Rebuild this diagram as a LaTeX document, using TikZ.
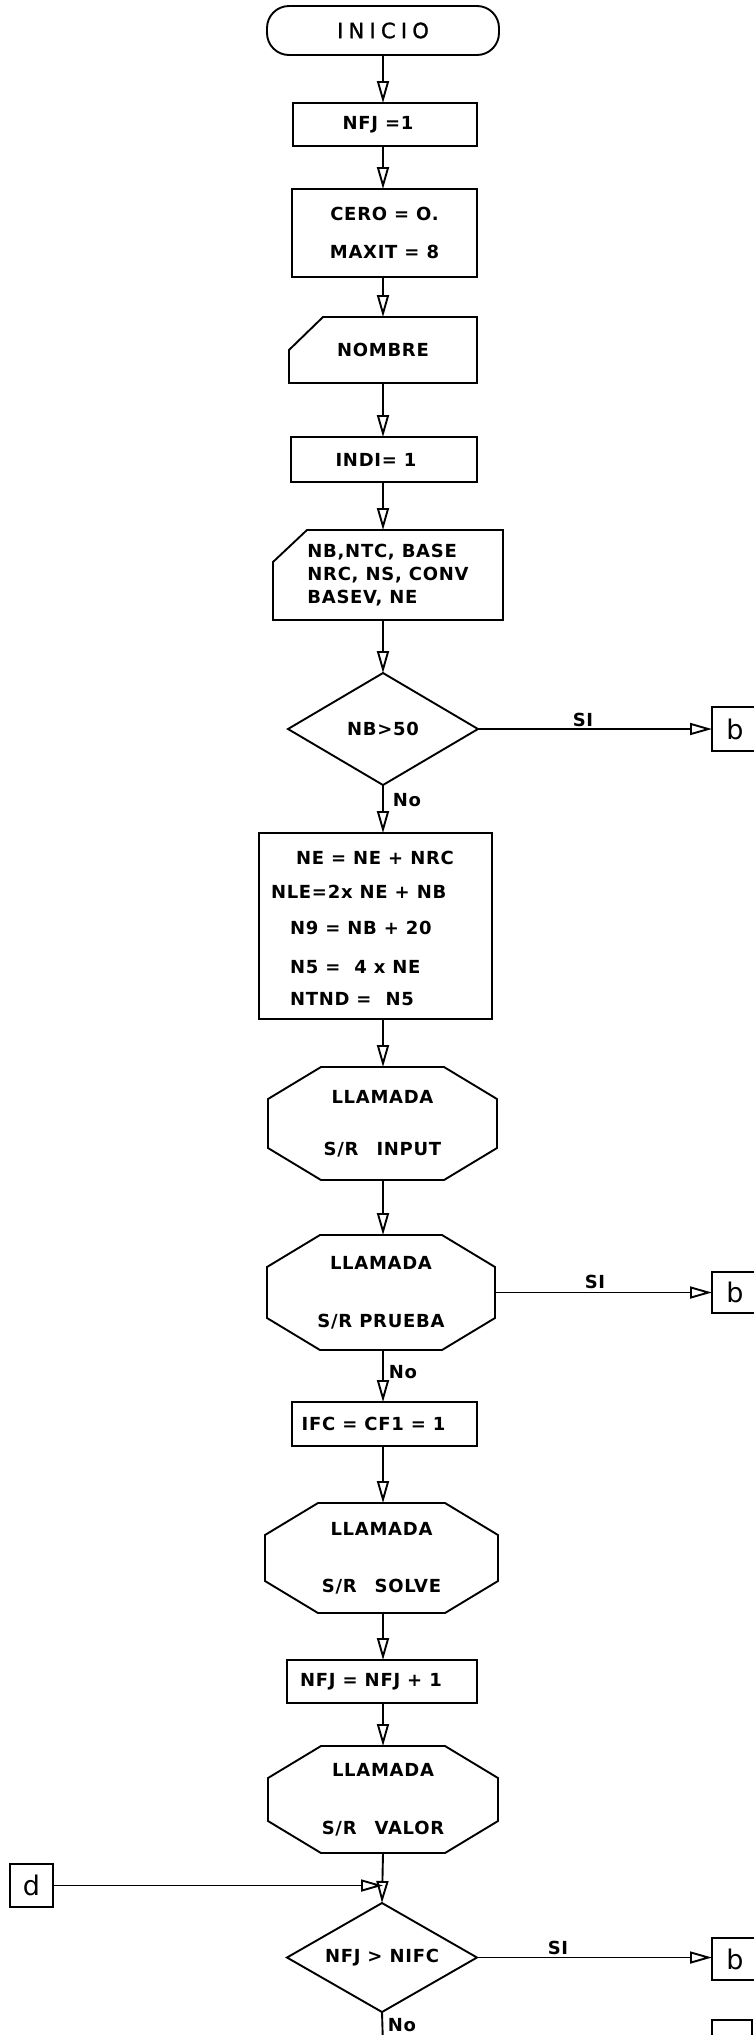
\documentclass[tikz,border=0pt]{standalone}
\usepackage{fontspec}
\setmainfont{DejaVu Sans}
\newfontfamily\lblfont{DejaVu Sans}[LetterSpace=4]
\newfontfamily\ttlfont{DejaVu Sans}[LetterSpace=25,FakeBold=1.2]
\usetikzlibrary{shapes.geometric,arrows.meta,calc}
\newcommand\drawocto[1]{\draw[ln] ($(#1.north west)+(53,0)$) -- ($(#1.north east)+(-53,0)$) -- ($(#1.north east)+(0,32)$) -- ($(#1.south east)+(0,-32)$) -- ($(#1.south east)+(-53,0)$) -- ($(#1.south west)+(53,0)$) -- ($(#1.south west)+(0,-32)$) -- ($(#1.north west)+(0,32)$) -- cycle;}
\newcommand\drawmanual[3]{\draw[ln] ($(#1.north west)+(#2,0)$) -- (#1.north east) -- (#1.south east) -- (#1.south west) -- ($(#1.north west)+(0,#3)$) -- cycle;}
\tikzset{
  ln/.style={line width=1.9pt},
  txt/.style={inner sep=0pt, outer sep=0pt, font=\lblfont\bfseries\fontsize{18}{21}\selectfont},
  box/.style={txt, draw, line width=1.9pt, align=center},
  ghost/.style={txt, align=center},
  term/.style={draw, line width=1.9pt, rounded corners=22pt, inner sep=0pt, outer sep=0pt,
    minimum width=232pt, minimum height=49pt, font=\ttlfont\fontsize{21}{24}\selectfont},
  dia/.style={txt, diamond, draw, line width=1.9pt, aspect=1.7},
  conn/.style={draw, line width=1.6pt, inner sep=0pt, outer sep=0pt,
    minimum width=46pt, font=\fontsize{27}{30}\selectfont},
  arr/.style={ln, -{Triangle[open, length=22pt, width=12pt]}},
  lab/.style={txt}
}
\begin{document}
\begin{tikzpicture}[x=1pt,y=-1pt]
\useasboundingbox (0,0) rectangle (754,2035);
\coordinate (ax) at (383,0);

\node[term] (ini) at (383,30.5) {INICIO};
\node[box, minimum width=184pt, minimum height=43pt] (nfj) at (385,124.5) {NFJ =1\hspace*{14pt}};
\node[box, minimum width=185pt, minimum height=88pt] (cero) at (384.5,233) {\raisebox{-6pt}{CERO = O.}\\[17pt]\raisebox{-6pt}{MAXIT = 8}};
\node[ghost, minimum width=188pt, minimum height=66pt] (nom) at (383,350) {NOMBRE};
\drawmanual{nom}{34}{33}
\node[box, minimum width=186pt, minimum height=45pt] (indi) at (384,459.5) {INDI= 1\hspace*{16pt}};
\node[ghost, align=left, minimum width=230pt, minimum height=90pt] (inp) at (388,575) {NB,NTC, BASE\\[2pt]NRC, NS, CONV\\[2pt]BASEV, NE};
\drawmanual{inp}{34}{32}
\node[dia, minimum width=190pt, minimum height=112pt] (q1) at (383,729) {NB>50};

\node[box, minimum width=233pt, minimum height=186pt] (ne) at (375.5,926) {};
\node[txt, anchor=west] (ne1) at (296,858) {NE = NE + NRC};
\node[txt, anchor=west] (ne2) at (271,892) {NLE=2x NE + NB};
\node[txt, anchor=west] (ne3) at (290,928) {N9 = NB + 20};
\node[txt, anchor=west] (ne4) at (290,967) {N5 = \ 4 x NE};
\node[txt, anchor=west] (ne5) at (290,999) {NTND = \ N5};

\node[ghost, minimum width=229pt, minimum height=113pt] (inpt) at (382.5,1123.5) {LLAMADA\\[31pt]S/R\quad INPUT};
\drawocto{inpt}
\node[ghost, minimum width=228pt, minimum height=115pt] (pr) at (381,1292.5) {LLAMADA\\[37pt]S/R PRUEBA};
\drawocto{pr}
\node[box, minimum width=185pt, minimum height=44pt] (ifc) at (384.5,1424) {IFC = CF1 = 1\hspace*{22pt}};
\node[ghost, minimum width=233pt, minimum height=110pt] (sol) at (381.5,1558) {LLAMADA\\[36pt]S/R\quad SOLVE};
\drawocto{sol}
\node[box, minimum width=190pt, minimum height=43pt] (nfj2) at (382,1681.5) {NFJ = NFJ + 1\hspace*{22pt}};
\node[ghost, minimum width=230pt, minimum height=107pt] (val) at (383,1799.5) {LLAMADA\\[37pt]S/R\quad VALOR};
\drawocto{val}
\node[dia, minimum width=190pt, minimum height=109pt] (q2) at (382,1957.5) {NFJ > NIFC};

\node[conn, minimum height=44pt] (b1) at (735,729) {b};
\node[conn, minimum height=41pt] (b2) at (735,1292.5) {b};
\node[conn, minimum height=42pt] (b3) at (735,1959) {b};
\node[conn, minimum width=43pt, minimum height=43pt] (dd) at (31.5,1885.5) {d};
\node[conn, minimum width=40pt, minimum height=50pt] (p4) at (732,2045) {};
\coordinate (bot) at (383,2045);

\draw[arr] (ini.south -| ax) -- (nfj.north -| ax);
\draw[arr] (nfj.south -| ax) -- (cero.north -| ax);
\draw[arr] (cero.south -| ax) -- (nom.north -| ax);
\draw[arr] (nom.south -| ax) -- (indi.north -| ax);
\draw[arr] (indi.south -| ax) -- (inp.north -| ax);
\draw[arr] (inp.south -| ax) -- (q1.north);
\draw[arr] (q1.south) -- (ne.north -| ax);
\draw[arr] (ne.south -| ax) -- (inpt.north -| ax);
\draw[arr] (inpt.south -| ax) -- (pr.north -| ax);
\draw[arr] (pr.south -| ax) -- (ifc.north -| ax);
\draw[arr] (ifc.south -| ax) -- (sol.north -| ax);
\draw[arr] (sol.south -| ax) -- (nfj2.north -| ax);
\draw[arr] (nfj2.south -| ax) -- (val.north -| ax);
\draw[arr] (val.south -| ax) -- (q2.north);
\draw[arr] (dd.east) -- (dd.east -| ax);
\draw[ln] (q2.south) -- (bot);
\draw[arr] (q1.east) -- (q1.east -| b1.west);
\draw[arr] (pr.east) -- (pr.east -| b2.west);
\draw[arr] (q2.east) -- (q2.east -| b3.west);

\node[lab] (si1) at (583,720) {SI};
\node[lab] (no1) at (407,800) {No};
\node[lab] (si2) at (595,1282) {SI};
\node[lab] (no2) at (403,1372) {No};
\node[lab] (si3) at (558,1948) {SI};
\node[lab] (no3) at (402,2025) {No};
\end{tikzpicture}
\end{document}
